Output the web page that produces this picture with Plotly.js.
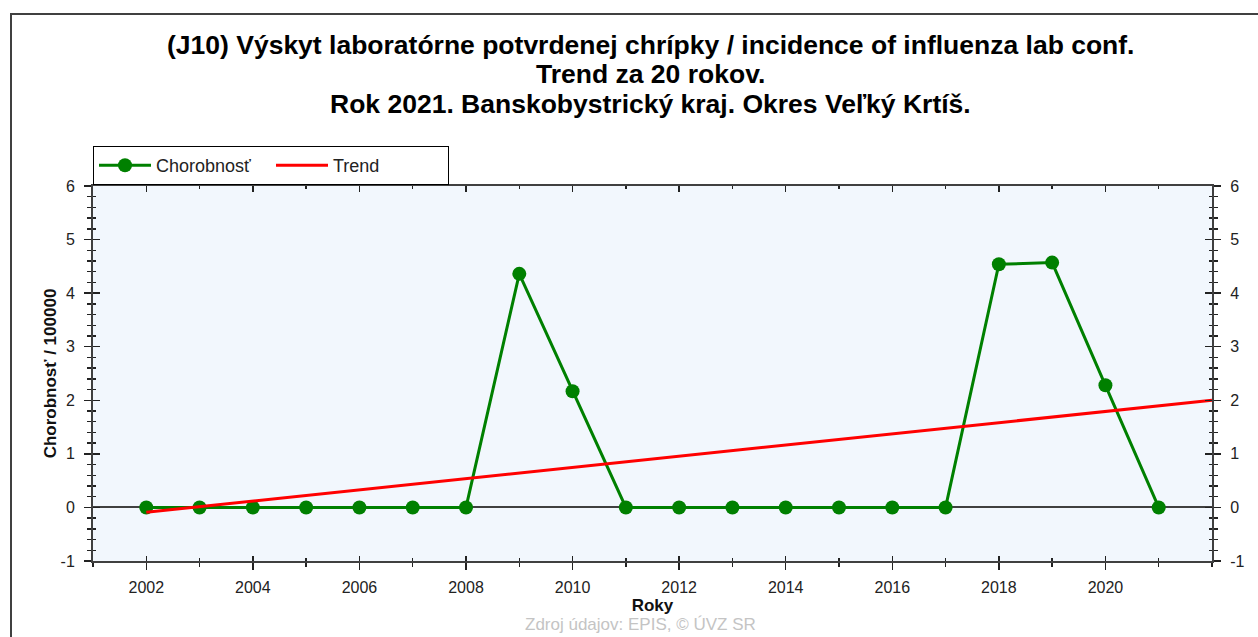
<!DOCTYPE html>
<html>
<head>
<meta charset="utf-8">
<script src="https://cdn.plot.ly/plotly-3.0.1.min.js"></script>
<style>
  html, body { margin: 0; padding: 0; background: #fff; }
  #wrap { position: relative; width: 1258px; height: 637px; overflow: hidden; }
  #chart { width: 1258px; height: 637px; }
  #frame { position: absolute; left: 10px; top: 13px; width: 1400px; height: 800px;
           border-left: 2px solid #404040; border-top: 2px solid #404040; pointer-events: none; }
</style>
</head>
<body>
<div id="wrap">
  <div id="chart"></div>
  <div id="frame"></div>
</div>
<script>
// ---- data ----
const years = [2002, 2003, 2004, 2005, 2006, 2007, 2008, 2009, 2010, 2011,
               2012, 2013, 2014, 2015, 2016, 2017, 2018, 2019, 2020, 2021];
const incidence = [0, 0, 0, 0, 0, 0, 0, 4.36, 2.17, 0,
                   0, 0, 0, 0, 0, 0, 4.54, 4.57, 2.28, 0];
const trendYears = [2002, 2022];
const trendValues = [-0.09, 2.0];

const seriesNames = ['Chorobnosť', 'Trend'];
const titleLines = [
  '(J10) Výskyt laboratórne potvrdenej chrípky / incidence of influenza lab conf.',
  'Trend za 20 rokov.',
  'Rok 2021. Banskobystrický kraj. Okres Veľký Krtíš.'
];
const xTitle = 'Roky';
const yTitle = 'Chorobnosť / 100000';
const sourceText = 'Zdroj údajov: EPIS, © ÚVZ SR';
const xTickVals = [2002, 2004, 2006, 2008, 2010, 2012, 2014, 2016, 2018, 2020];
const yTickVals = [-1, 0, 1, 2, 3, 4, 5, 6];
const yTickText = ['-1', '0', '1', '2', '3', '4', '5', '6'];

const xRange = [2001, 2022];
const yRange = [-1, 6];

const FONT = 'Liberation Sans, Arial, sans-serif';
const AXC = '#404040';
const TICKC = '#222';

// helper traces (fully transparent) so the extra tick axes get drawn
function ghost(xa, ya) {
  return { x: years, y: incidence, xaxis: xa, yaxis: ya, type: 'scatter', mode: 'lines',
           line: { width: 0, color: 'rgba(0,0,0,0)' }, opacity: 0, showlegend: false, hoverinfo: 'skip' };
}

const traces = [
  {
    x: years, y: incidence, name: seriesNames[0], type: 'scatter', mode: 'lines+markers',
    line: { color: '#008000', width: 3 },
    marker: { color: '#008000', size: 14, symbol: 'circle' },
    xaxis: 'x', yaxis: 'y'
  },
  {
    x: trendYears, y: trendValues, name: seriesNames[1], type: 'scatter', mode: 'lines',
    line: { color: '#ff0000', width: 3 },
    xaxis: 'x', yaxis: 'y'
  },
  ghost('x', 'y2'),
  ghost('x2', 'y3'),
  ghost('x3', 'y4')
];

const tickfont = { family: FONT, size: 16, color: TICKC };

function titleAnn(i, py) {
  return {
    text: '<b>' + titleLines[i] + '</b>', xref: 'paper', yref: 'paper',
    x: (650 - 93) / 1119, y: (561 - py) / 375, xanchor: 'center', yanchor: 'middle',
    showarrow: false, font: { family: FONT, size: 26.5, color: '#000' }
  };
}

const yMinor = { tickmode: 'linear', tick0: 0, dtick: 0.2, tickwidth: 1.5, tickcolor: TICKC, showgrid: false };
const xMinor = { tickmode: 'linear', tick0: 2001, dtick: 1, tickwidth: 1.5, tickcolor: TICKC, showgrid: false };

const layout = {
  width: 1258, height: 637,
  margin: { l: 93, r: 46, t: 186, b: 76 },
  paper_bgcolor: '#ffffff',
  plot_bgcolor: '#f2f7fd',
  showlegend: true,
  legend: {
    orientation: 'h', x: 0, xanchor: 'left', y: (561 - 146) / 375, yanchor: 'top',
    bordercolor: '#000', borderwidth: 1, bgcolor: '#fff',
    font: { family: FONT, size: 18, color: '#222' },
    itemwidth: 52,
    entrywidth: 110, entrywidthmode: 'pixels',
    tracegroupgap: 0
  },
  xaxis: {
    range: xRange, tickmode: 'array', tickvals: xTickVals,
    ticks: 'outside', ticklen: 7, tickwidth: 1.5, tickcolor: TICKC,
    minor: Object.assign({ ticks: 'outside', ticklen: 4 }, xMinor),
    showline: true, linecolor: AXC, linewidth: 2, showgrid: false, zeroline: false,
    tickfont: tickfont, ticklabelstandoff: 4,
    title: { text: '<b>' + xTitle + '</b>', font: { family: FONT, size: 17, color: '#111' }, standoff: 4 }
  },
  xaxis2: {
    range: xRange, overlaying: 'x', side: 'bottom', anchor: 'y3',
    tickmode: 'array', tickvals: xTickVals, ticks: 'inside', ticklen: 5, tickwidth: 1.5, tickcolor: TICKC,
    minor: Object.assign({ ticks: 'inside', ticklen: 3 }, xMinor),
    showticklabels: false, showline: false, showgrid: false, zeroline: false
  },
  xaxis3: {
    range: xRange, overlaying: 'x', side: 'top', anchor: 'y4',
    tickmode: 'array', tickvals: xTickVals, ticks: 'inside', ticklen: 6, tickwidth: 1.5, tickcolor: TICKC,
    minor: Object.assign({ ticks: 'inside', ticklen: 3 }, xMinor),
    showticklabels: false, showline: true, linecolor: AXC, linewidth: 2, showgrid: false, zeroline: false
  },
  yaxis: {
    range: yRange, tickmode: 'array', tickvals: yTickVals, ticktext: yTickText,
    ticks: 'outside', ticklen: 7, tickwidth: 1.5, tickcolor: TICKC,
    minor: Object.assign({ ticks: 'outside', ticklen: 4 }, yMinor),
    showline: true, linecolor: AXC, linewidth: 2, showgrid: false,
    zeroline: true, zerolinecolor: AXC, zerolinewidth: 2,
    tickfont: tickfont, ticklabelstandoff: 6,
    title: { text: '<b>' + yTitle + '</b>', font: { family: FONT, size: 17, color: '#111' }, standoff: 0 }
  },
  yaxis2: {
    range: yRange, overlaying: 'y', side: 'right', anchor: 'x',
    tickmode: 'array', tickvals: yTickVals, ticktext: yTickText,
    ticks: 'outside', ticklen: 7, tickwidth: 1.5, tickcolor: TICKC,
    minor: Object.assign({ ticks: 'outside', ticklen: 4 }, yMinor),
    showline: true, linecolor: AXC, linewidth: 2, showgrid: false, zeroline: false,
    tickfont: tickfont, ticklabelstandoff: 6
  },
  yaxis3: {
    range: yRange, overlaying: 'y', side: 'left', anchor: 'x2',
    tickmode: 'array', tickvals: yTickVals,
    ticks: 'inside', ticklen: 7, tickwidth: 1.5, tickcolor: TICKC,
    minor: Object.assign({ ticks: 'inside', ticklen: 3 }, yMinor),
    showticklabels: false, showline: false, showgrid: false, zeroline: false
  },
  yaxis4: {
    range: yRange, overlaying: 'y', side: 'right', anchor: 'x3',
    tickmode: 'array', tickvals: yTickVals,
    ticks: 'inside', ticklen: 7, tickwidth: 1.5, tickcolor: TICKC,
    minor: Object.assign({ ticks: 'inside', ticklen: 3 }, yMinor),
    showticklabels: false, showline: false, showgrid: false, zeroline: false
  },
  annotations: [
    titleAnn(0, 45),
    titleAnn(1, 74),
    titleAnn(2, 104),
    {
      text: sourceText, xref: 'paper', yref: 'paper',
      x: (640 - 93) / 1119, y: (561 - 613) / 375, xanchor: 'center', yanchor: 'top',
      showarrow: false, font: { family: FONT, size: 17, color: '#c4c4c4' }
    }
  ]
};

Plotly.newPlot('chart', traces, layout, { staticPlot: true, displayModeBar: false });
</script>
</body>
</html>
